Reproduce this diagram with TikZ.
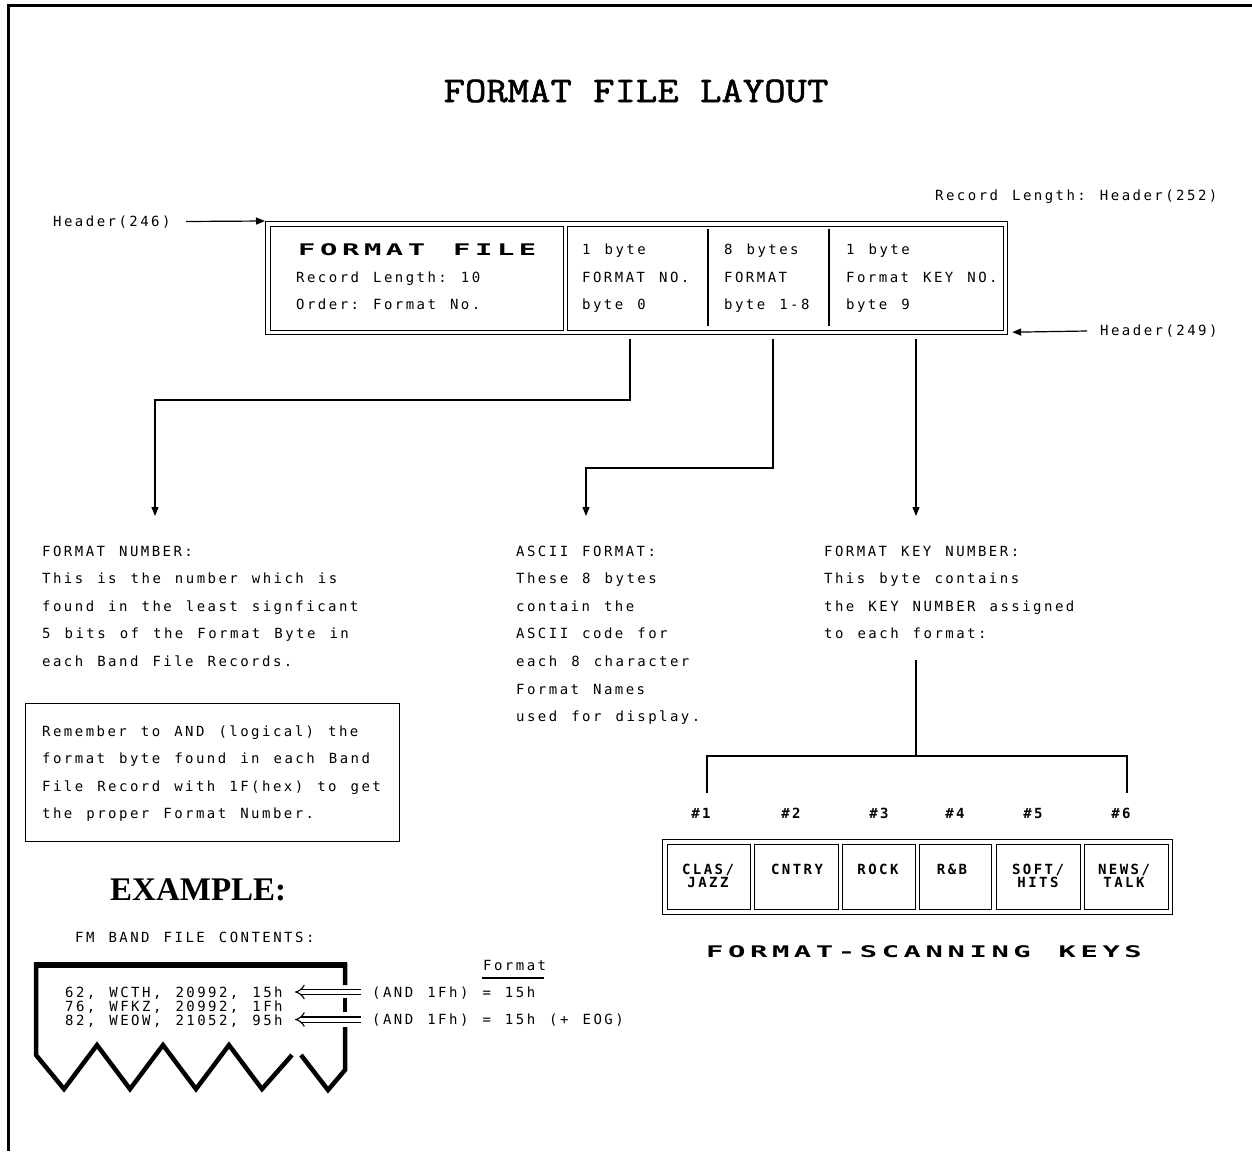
\documentclass[tikz,border=0pt]{standalone}
\usepackage{fontspec}
\usepackage{graphicx}
\usetikzlibrary{arrows.meta}
\newfontfamily\smf[LetterSpace=17.6,WordSpace=1.29]{DejaVu Sans Mono}
\newfontfamily\wdf[LetterSpace=16,WordSpace=1.27]{DejaVu Sans Mono}
\newfontfamily\ttlf[FakeBold=1.5]{Latin Modern Mono}
\newfontfamily\serf{Liberation Serif}
\frenchspacing
\tikzset{
  txt/.style={inner sep=0pt, anchor=base west, font=\smf\fontsize{14}{16}\selectfont},
  ktxt/.style={inner sep=0pt, anchor=base, font=\smf\bfseries\fontsize{14}{16}\selectfont},
  ln/.style={line width=1.2pt},
  arr/.style={ln, -{Triangle[width=7pt,length=9pt]}},
  box/.style={draw, line width=1.2pt, inner sep=0pt, anchor=north west},
  dbl/.style={double, double distance=4pt, line width=1.1pt, -{Implies}},
  thick5/.style={line width=4.5pt, line join=miter},
  wide/.style={inner sep=0pt, anchor=base west, font=\wdf\bfseries\fontsize{16}{18}\selectfont},
}
\begin{document}
\begin{tikzpicture}[x=1pt,y=-1pt]
\useasboundingbox (0,0) rectangle (1252,1151);
% frame
\draw[line width=3pt] (7,5) -- (1252,5);
\draw[line width=3pt] (8.5,3.5) -- (8.5,1151);
% title
\node[inner sep=0pt, anchor=base, font=\ttlf\fontsize{36}{40}\selectfont] (title) at (636,102) {\scalebox{1.153}[1]{FORMAT FILE LAYOUT}};
% header labels
\node[txt] (rl252) at (935,200) {Record Length: Header(252)};
\node[txt] (h246) at (53,226) {Header(246)};
\node[txt] (h249) at (1100,335.5) {Header(249)};
% main box
\node[box, minimum width=742pt, minimum height=113pt] (mainout) at (265,221) {};
\node[box, minimum width=293.5pt, minimum height=104pt] (leftcell) at (269.5,225.5) {};
\node[box, minimum width=435.5pt, minimum height=104pt] (rightcell) at (567,225.5) {};
\draw[ln] (708,229) -- (708,326);
\draw[ln] (829,229) -- (829,326);
\coordinate (h246end) at (186,221.5);
\coordinate (h249end) at (1087,331);
\draw[arr] (h246end) -- (mainout.north west);
\draw[arr] (h249end) -- ([xshift=4pt,yshift=3pt]mainout.south east);
% box text
\node[wide] (fftitle) at (298,255) {\scalebox{1.8}[1]{FORMAT FILE}};
\node[txt] (ff2) at (296,282) {Record Length: 10};
\node[txt] (ff3) at (296,309.5) {Order: Format No.};
\node[txt] (c1a) at (582,254) {1 byte};
\node[txt] (c1b) at (582,282) {FORMAT NO.};
\node[txt] (c1c) at (582,309.5) {byte 0};
\node[txt] (c2a) at (724,254) {8 bytes};
\node[txt] (c2b) at (724,282) {FORMAT};
\node[txt] (c2c) at (724,309.5) {byte 1-8};
\node[txt] (c3a) at (846,254) {1 byte};
\node[txt] (c3b) at (846,282) {Format KEY NO.};
\node[txt] (c3c) at (846,309.5) {byte 9};
% connectors
\coordinate (s1) at (630,339);
\coordinate (s2) at (773,339);
\coordinate (s3) at (916,339);
\coordinate (e1) at (155,516);
\coordinate (e2) at (586,516);
\coordinate (e3) at (916,516);
\draw[arr] (s1) -- (630,400) -| (e1);
\draw[arr] (s2) -- (773,468) -| (e2);
\draw[arr] (s3) -- (e3);
% left block
\node[txt] (fn1) at (42,556) {FORMAT NUMBER:};
\node[txt] (fn2) at (42,583.6) {This is the number which is};
\node[txt] (fn3) at (42,611.2) {found in the least signficant};
\node[txt] (fn4) at (42,638.8) {5 bits of the Format Byte in};
\node[txt] (fn5) at (42,666.4) {each Band File Records.};
% middle block
\node[txt] (af1) at (516,556) {ASCII FORMAT:};
\node[txt] (af2) at (516,583.6) {These 8 bytes};
\node[txt] (af3) at (516,611.2) {contain the};
\node[txt] (af4) at (516,638.8) {ASCII code for};
\node[txt] (af5) at (516,666.4) {each 8 character};
\node[txt] (af6) at (516,694) {Format Names};
\node[txt] (af7) at (516,721.6) {used for display.};
% right block
\node[txt] (fk1) at (824,556) {FORMAT KEY NUMBER:};
\node[txt] (fk2) at (824,583.6) {This byte contains};
\node[txt] (fk3) at (824,611.2) {the KEY NUMBER assigned};
\node[txt] (fk4) at (824,638.8) {to each format:};
% remember box
\node[box, minimum width=374.5pt, minimum height=137.5pt] (rembox) at (24.5,703) {};
\node[txt] (rm1) at (42,736) {Remember to AND (logical) the};
\node[txt] (rm2) at (42,763.6) {format byte found in each Band};
\node[txt] (rm3) at (42,791.2) {File Record with 1F(hex) to get};
\node[txt] (rm4) at (42,818.8) {the proper Format Number.};
% tree to keys
\coordinate (tr0) at (916,660);
\coordinate (tr1) at (916,756);
\coordinate (b1) at (707,793);
\coordinate (b6) at (1127,793);
\draw[ln] (tr0) -- (tr1);
\draw[ln] (b1) |- (tr1) -| (b6);
% key numbers
\node[ktxt] (n1) at (701,818.5) {\#1};
\node[ktxt] (n2) at (791,818.5) {\#2};
\node[ktxt] (n3) at (879,818.5) {\#3};
\node[ktxt] (n4) at (955,818.5) {\#4};
\node[ktxt] (n5) at (1033,818.5) {\#5};
\node[ktxt] (n6) at (1121,818.5) {\#6};
% keys box
\node[box, minimum width=510pt, minimum height=75pt] (keysout) at (662,838.5) {};
\node[box, minimum width=83pt, minimum height=65pt] (k1) at (666.5,843.5) {};
\node[box, minimum width=84.5pt, minimum height=65pt] (k2) at (753.5,843.5) {};
\node[box, minimum width=72.5pt, minimum height=65pt] (k3) at (842,843.5) {};
\node[box, minimum width=72.5pt, minimum height=65pt] (k4) at (918.5,843.5) {};
\node[box, minimum width=84pt, minimum height=65pt] (k5) at (995.5,843.5) {};
\node[box, minimum width=84pt, minimum height=65pt] (k6) at (1083.5,843.5) {};
\node[ktxt] (k1a) at (708,874) {CLAS/};
\node[ktxt] (k1b) at (708,887.5) {JAZZ};
\node[ktxt] (k2a) at (797,874) {CNTRY};
\node[ktxt] (k3a) at (878,874) {ROCK};
\node[ktxt] (k4a) at (952,874) {R\&B};
\node[ktxt] (k5a) at (1038,874) {SOFT/};
\node[ktxt] (k5b) at (1038,887.5) {HITS};
\node[ktxt] (k6a) at (1124,874) {NEWS/};
\node[ktxt] (k6b) at (1124,887.5) {TALK};
\node[wide] (fsk) at (706,957) {\scalebox{1.8}[1]{FORMAT-SCANNING KEYS}};
% example
\node[inner sep=0pt, anchor=base west, font=\serf\bfseries\fontsize{33}{36}\selectfont] (example) at (110,900) {EXAMPLE:};
\node[txt] (fmband) at (75,942) {FM BAND FILE CONTENTS:};
% band file shape
\draw[thick5] (292,1055) -- (262,1089) -- (229,1045) -- (196,1089) -- (163,1045) -- (130,1089) -- (97,1045) -- (64,1089) -- (36,1055) -- (36,965) -- (345,965) -- (345,985);
\draw[line width=6pt] (34,965) -- (347,965);
\draw[thick5] (345,998) -- (345,1012);
\draw[thick5] (345,1027) -- (345,1070) -- (328,1090) -- (301,1055);
\node[txt] (r1) at (65,997) {62, WCTH, 20992, 15h};
\node[txt] (r2) at (65,1011) {76, WFKZ, 20992, 1Fh};
\node[txt] (r3) at (65,1025) {82, WEOW, 21052, 95h};
\coordinate (t1) at (361,992);
\coordinate (p1) at (295,992);
\coordinate (t2) at (361,1019.5);
\coordinate (p2) at (295,1019.5);
\draw[dbl] (t1) -- (p1);
\draw[dbl] (t2) -- (p2);
\node[txt] (and1) at (372,997) {(AND 1Fh) = 15h};
\node[txt] (and2) at (372,1024.5) {(AND 1Fh) = 15h (+ EOG)};
\node[txt] (fmtlbl) at (483,970) {Format};
\draw[line width=1.2pt] ([xshift=-1pt,yshift=-8pt]fmtlbl.base west) -- ([xshift=-2pt,yshift=-8pt]fmtlbl.base east);
\end{tikzpicture}
\end{document}
